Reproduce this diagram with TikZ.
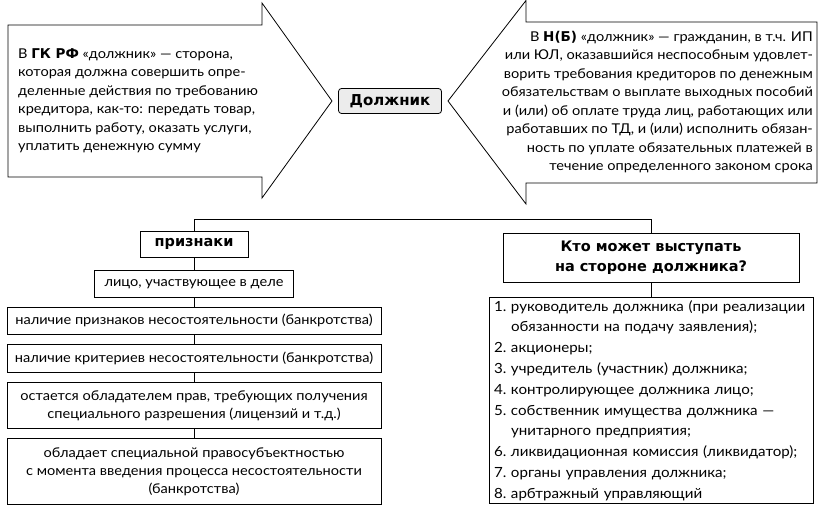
\documentclass[tikz,border=0pt]{standalone}
\usepackage{fontspec}
\setmainfont{Lato}[FakeStretch=1.08]
\newfontfamily\hdfont{DejaVu Sans}
\newcommand{\hd}[1]{{\hdfont\bfseries #1}}
\tikzset{
  txt/.style={font=\fontsize{13.5}{18.5}\selectfont, inner sep=0pt},
  box/.style={draw, fill=white, line width=0.8pt, align=center, inner sep=2pt,
    font=\fontsize{13.5}{18}\selectfont},
  headbox/.style={box, font=\hdfont\bfseries\fontsize{14.5}{20}\selectfont},
  arrowshape/.style={draw, line width=0.8pt, fill=white},
  conn/.style={line width=0.8pt},
}
\begin{document}
\begin{tikzpicture}[x=1pt, y=-1pt]
  \useasboundingbox (0,0) rectangle (823,511);

  % Две большие стрелки, направленные к центральному понятию
  \draw[arrowshape] (8,25) -- (262,25) -- (262,3) -- (332,101) -- (262,198)
    -- (262,177) -- (8,177) -- cycle;
  \draw[arrowshape] (817,22) -- (526,22) -- (526,0.5) -- (448,101) -- (526,204)
    -- (526,183) -- (817,183) -- cycle;

  % Определения внутри стрелок
  \node[txt, anchor=west, align=left] (gkrf) at (18,101) {%
    В \hd{ГК РФ} «должник» — сторона,\\
    которая должна совершить опре-\\
    деленные действия по требованию\\
    кредитора, как-то: передать товар,\\
    выполнить работу, оказать услуги,\\
    уплатить денежную сумму};
  \node[txt, anchor=east, align=right] (nb) at (813,102) {%
    В \hd{Н(Б)} «должник» — гражданин, в т.ч. ИП\\
    или ЮЛ, оказавшийся неспособным удовлет-\\
    ворить требования кредиторов по денежным\\
    обязательствам о выплате выходных пособий\\
    и (или) об оплате труда лиц, работающих или\\
    работавших по ТД, и (или) исполнить обязан-\\
    ность по уплате обязательных платежей в\\
    течение определенного законом срока};

  % Центральное понятие
  \node[draw, line width=0.8pt, rounded corners=3pt, fill=gray!15,
    minimum width=103, minimum height=25, font=\hdfont\bfseries\fontsize{15}{17}\selectfont]
    (dolzhnik) at (390,101) {Должник};

  % Левая ветвь: признаки должника
  \def\xl{194}
  \node[headbox, minimum width=108, minimum height=26, anchor=north] (priznaki) at (\xl,231) {признаки};
  \node[box, minimum width=199, minimum height=27, anchor=north] (litso) at (\xl,270)
    {лицо, участвующее в деле};
  \node[box, minimum width=374, minimum height=27, anchor=north] (nal1) at (\xl,307)
    {наличие признаков несостоятельности (банкротства)};
  \node[box, minimum width=374, minimum height=28, anchor=north] (nal2) at (\xl,344)
    {наличие критериев несостоятельности (банкротства)};
  \node[box, minimum width=374, minimum height=46, anchor=north] (prava) at (\xl,382)
    {остается обладателем прав, требующих получения\\специального разрешения (лицензий и т.д.)};
  \node[box, minimum width=374, minimum height=66, anchor=north] (pravosub) at (\xl,438)
    {обладает специальной правосубъектностью\\с момента введения процесса несостоятельности\\(банкротства)};

  % Правая ветвь: кто может выступать на стороне должника
  \def\xr{651}
  \node[headbox, minimum width=296, minimum height=49, anchor=north] (kto) at (\xr,233)
    {Кто может выступать\\на стороне должника?};
  \node[box, minimum width=324, minimum height=206, anchor=north, align=left,
    font=\fontsize{14}{20.8}\selectfont, text width=314] (spisok) at (\xr,297) {%
    1.~руководитель должника (при реализации\\
    \phantom{1.~}обязанности на подачу заявления);\\
    2.~акционеры;\\
    3.~учредитель (участник) должника;\\
    4.~контролирующее должника лицо;\\
    5.~собственник имущества должника —\\
    \phantom{5.~}унитарного предприятия;\\
    6.~ликвидационная комиссия (ликвидатор);\\
    7.~органы управления должника;\\
    8.~арбтражный управляющий};

  % Соединительные линии
  \coordinate (fork) at (\xl,219);
  \draw[conn] (priznaki.north) -- (fork) -| (kto.north);
  \draw[conn] (kto.south) -- (spisok.north);
  \foreach \a/\b in {priznaki/litso, litso/nal1, nal1/nal2, nal2/prava, prava/pravosub}
    \draw[conn] (\a.south) -- (\b.north);

\end{tikzpicture}
\end{document}
